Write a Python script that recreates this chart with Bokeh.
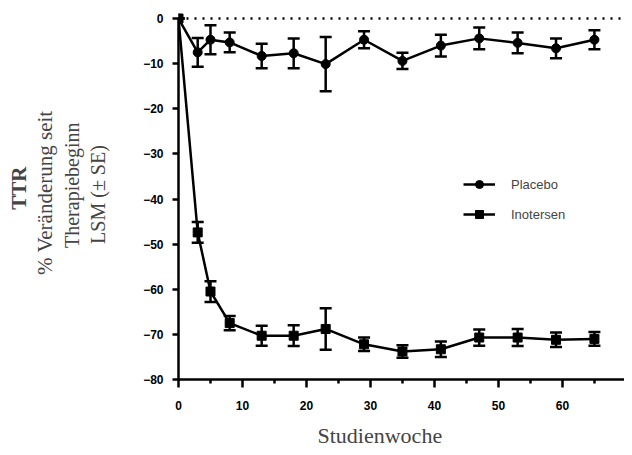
from bokeh.plotting import figure
from bokeh.models import (ColumnDataSource, Whisker, TeeHead, Span, Legend, LegendItem,
                          Title, FixedTicker)
from bokeh.embed import file_html
from bokeh.resources import INLINE

weeks = [0, 3, 5, 8, 13, 18, 23, 29, 35, 41, 47, 53, 59, 65]
placebo = [0, -7.5, -4.7, -5.3, -8.3, -7.7, -10.1, -4.7, -9.4, -6.0, -4.4, -5.4, -6.6, -4.7]
placebo_se = [0, 3.2, 3.2, 2.2, 2.7, 3.3, 6.0, 1.9, 1.8, 2.4, 2.4, 2.3, 2.2, 2.1]
inotersen = [0, -47.4, -60.5, -67.5, -70.3, -70.3, -68.8, -72.2, -73.8, -73.3, -70.7, -70.7, -71.2, -71.0]
inotersen_se = [0, 2.3, 2.3, 1.6, 2.2, 2.3, 4.6, 1.5, 1.4, 1.7, 1.8, 1.9, 1.6, 1.5]

x_ticks = [0, 10, 20, 30, 40, 50, 60, 70]
x_minor = [5, 15, 25, 35, 45, 55, 65]
y_ticks = [0, -10, -20, -30, -40, -50, -60, -70, -80]

y_title_lines = ["TTR", "% Veränderung seit", "Therapiebeginn", "LSM (± SE)"]
x_title = "Studienwoche"

SANS = "Liberation Sans"
SERIF = "Liberation Serif"

p = figure(width=624, height=455, x_range=(0, 69.7), y_range=(-80, 2),
           output_backend="svg", toolbar_location=None,
           min_border_left=178, min_border_right=0, min_border_top=9, min_border_bottom=75)
p.outline_line_color = None
p.grid.visible = False
p.background_fill_color = None
p.border_fill_color = "white"


def src(vals, se):
    return ColumnDataSource(dict(
        x=weeks, y=vals,
        lo=[v - s for v, s in zip(vals, se)],
        hi=[v + s for v, s in zip(vals, se)]))


ps = src(placebo, placebo_se)
ins = src(inotersen, inotersen_se)

p.add_layout(Span(location=0, dimension="width", line_color="black",
                  line_width=2.5, line_dash="2 6"))

for s in (ps, ins):
    w = Whisker(base="x", upper="hi", lower="lo", source=s, line_color="black", line_width=2.5,
                upper_head=TeeHead(size=12, line_width=2.5, line_color="black"),
                lower_head=TeeHead(size=12, line_width=2.5, line_color="black"))
    p.add_layout(w)

pl_line = p.line("x", "y", source=ps, line_color="black", line_width=2.5)
pl_pts = p.scatter("x", "y", source=ps, marker="circle", size=9, color="black")
in_line = p.line("x", "y", source=ins, line_color="black", line_width=2.5)
in_pts = p.scatter("x", "y", source=ins, marker="square", size=9, color="black")

legend = Legend(items=[LegendItem(label="Placebo", renderers=[pl_line, pl_pts]),
                       LegendItem(label="Inotersen", renderers=[in_line, in_pts])],
                location=(285, 155), background_fill_alpha=0, border_line_color=None,
                label_text_font=SANS, label_text_font_size="13px",
                glyph_width=32, label_standoff=16, spacing=10)
p.add_layout(legend)

xa = p.xaxis[0]
xa.ticker = FixedTicker(ticks=x_ticks, minor_ticks=x_minor)
xa.bounds = (0, 70)
ya = p.yaxis[0]
ya.ticker = FixedTicker(ticks=y_ticks)
ya.bounds = (-80, 0)
for ax in (xa, ya):
    ax.axis_line_width = 2.5
    ax.major_tick_line_width = 2.5
    ax.minor_tick_line_width = 2.5
    ax.major_tick_in = 0
    ax.minor_tick_in = 0
    ax.major_label_text_font = SANS
    ax.major_label_text_font_style = "bold"
    ax.major_label_text_font_size = "12px"
    ax.major_label_text_color = "black"
xa.major_tick_out = 8
xa.minor_tick_out = 4
xa.major_label_standoff = 13
ya.major_tick_out = 6
ya.minor_tick_out = 0
ya.major_label_standoff = 9

# innermost y-title line as the axis label
ya.axis_label = y_title_lines[3]
ya.axis_label_text_font = SERIF
ya.axis_label_text_font_style = "normal"
ya.axis_label_text_font_size = "20px"
ya.axis_label_standoff = 31

# remaining y-title lines stacked outward (first added is nearest the axis)
for txt, fs, st, so, off in [(y_title_lines[2], "20px", "normal", 4, 113),
                             (y_title_lines[1], "21px", "normal", 0, 101),
                             (y_title_lines[0], "21px", "bold", 0, 157)]:
    p.add_layout(Title(text=txt, align="right", offset=off, text_font=SERIF,
                       text_font_size=fs, text_font_style=st, standoff=so), "left")

p.add_layout(Title(text=x_title, align="left", offset=139, text_font=SERIF,
                   text_font_size="22px", text_font_style="normal", standoff=16), "below")

open("out.html", "w").write(file_html(p, INLINE))
